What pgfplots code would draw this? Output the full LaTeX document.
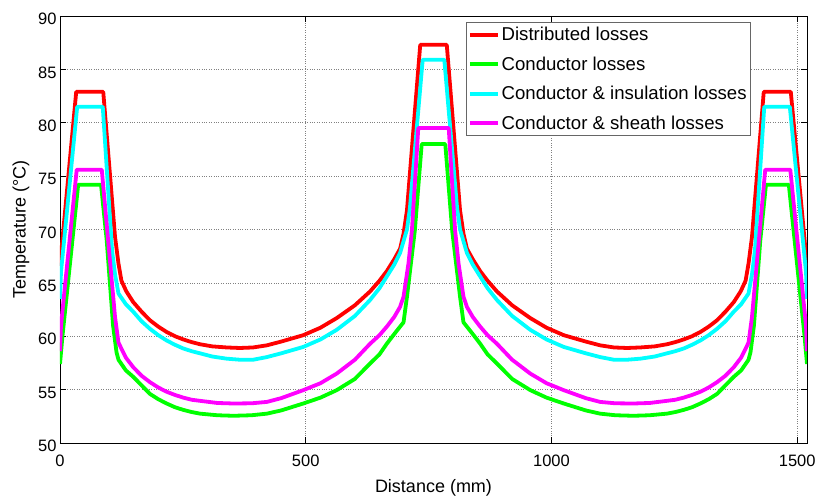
\documentclass[border=0pt]{standalone}
\usepackage{fontspec}
\setmainfont{Liberation Sans}
\usepackage{pgfplots}
\pgfplotsset{compat=1.18}
\definecolor{mred}{RGB}{255,0,0}
\definecolor{mgreen}{RGB}{0,255,0}
\definecolor{mcyan}{RGB}{0,255,255}
\definecolor{mmagenta}{RGB}{255,0,255}

\pgfplotstableread{
x y
0 66.6
33 82.9
88 82.9
112 69.3
119 66.8
125 65.2
135 64.2
149 63.2
166 62.3
183 61.5
200 60.9
217 60.4
234 60.0
251 59.7
268 59.45
285 59.25
310 59.05
339 58.95
366 58.9
393 58.95
421 59.15
450 59.5
495 60.1
530 60.8
563 61.7
600 62.9
631 64.2
650 65.2
665 66.1
680 67.2
692 68.2
699 69.6
706 71.8
719 79.3
733 87.3
760 87.3
787 87.3
801 79.3
814 71.8
821 69.6
828 68.2
840 67.2
855 66.1
870 65.2
889 64.2
920 62.9
957 61.7
990 60.8
1025 60.1
1070 59.5
1099 59.15
1127 58.95
1154 58.9
1181 58.95
1210 59.05
1235 59.25
1252 59.45
1269 59.7
1286 60.0
1303 60.4
1320 60.9
1337 61.5
1354 62.3
1371 63.2
1385 64.2
1395 65.2
1401 66.8
1408 69.3
1432 82.9
1487 82.9
1520 66.6
}\distributed

\pgfplotstableread{
x y
0 57.4
5 60.0
37 74.2
83.5 74.2
95 69.0
108 61.0
115 58.5
119 57.8
134 56.8
149 56.2
166 55.4
183 54.6
200 54.1
217 53.7
234 53.35
251 53.1
268 52.9
285 52.75
320 52.6
353 52.55
390 52.6
421 52.75
450 53.05
495 53.7
530 54.25
563 54.95
600 56.0
631 57.45
650 58.3
665 59.3
680 60.2
692 60.9
699 61.3
706 63.7
722 69.9
736 78.0
760 78.0
784 78.0
798 69.9
814 63.7
821 61.3
828 60.9
840 60.2
855 59.3
870 58.3
889 57.45
920 56.0
957 54.95
990 54.25
1025 53.7
1070 53.05
1099 52.75
1130 52.6
1167 52.55
1200 52.6
1235 52.75
1252 52.9
1269 53.1
1286 53.35
1303 53.7
1320 54.1
1337 54.6
1354 55.4
1371 56.2
1386 56.8
1401 57.8
1405 58.5
1412 61.0
1425 69.0
1436.5 74.2
1483 74.2
1515 60.0
1520 57.4
}\conductor

\pgfplotstableread{
x y
0 63.5
2 66.0
35 81.5
87 81.5
106 68.0
112 65.8
119 64.0
134 63.0
149 62.3
166 61.4
183 60.7
200 60.1
217 59.6
234 59.2
251 58.85
268 58.6
285 58.4
310 58.1
339 57.9
366 57.8
393 57.8
421 58.05
450 58.4
495 59.0
530 59.7
563 60.6
600 61.9
631 63.4
650 64.5
665 65.6
680 66.7
692 67.8
706 70.0
712 72.0
725 79.0
738 85.9
760 85.9
782 85.9
795 79.0
808 72.0
814 70.0
828 67.8
840 66.7
855 65.6
870 64.5
889 63.4
920 61.9
957 60.6
990 59.7
1025 59.0
1070 58.4
1099 58.05
1127 57.8
1154 57.8
1181 57.9
1210 58.1
1235 58.4
1252 58.6
1269 58.85
1286 59.2
1303 59.6
1320 60.1
1337 60.7
1354 61.4
1371 62.3
1386 63.0
1401 64.0
1408 65.8
1414 68.0
1433 81.5
1485 81.5
1518 66.0
1520 63.5
}\insulation

\pgfplotstableread{
x y
0 58.6
2 61.0
34 75.6
85 75.6
112 61.8
119 59.4
134 58.0
149 57.1
166 56.3
183 55.7
200 55.2
217 54.8
234 54.5
251 54.25
268 54.05
285 53.95
320 53.75
353 53.7
390 53.72
421 53.85
450 54.2
495 54.95
530 55.6
563 56.5
600 57.8
631 59.3
650 60.1
665 60.9
680 61.8
692 62.75
699 63.7
709 66.8
716 69.9
723 75.0
729 79.5
760 79.5
791 79.5
797 75.0
804 69.9
811 66.8
821 63.7
828 62.75
840 61.8
855 60.9
870 60.1
889 59.3
920 57.8
957 56.5
990 55.6
1025 54.95
1070 54.2
1099 53.85
1130 53.72
1167 53.7
1200 53.75
1235 53.95
1252 54.05
1269 54.25
1286 54.5
1303 54.8
1320 55.2
1337 55.7
1354 56.3
1371 57.1
1386 58.0
1401 59.4
1408 61.8
1435 75.6
1486 75.6
1518 61.0
1520 58.6
}\sheath

\begin{document}
\begin{tikzpicture}
\begin{axis}[
  at={(0,0)}, anchor=south west,
  scale only axis, width=747pt, height=427pt,
  xmin=0, xmax=1520, ymin=50, ymax=90,
  xtick={0,500,1000,1500}, ytick={50,55,...,90},
  tick align=inside, major tick length=6pt,
  tick style={black, line width=0.5pt},
  axis line style={line width=0.6pt},
  grid=major, grid style={dotted, gray, line width=0.6pt},
  /pgf/number format/assume math mode=true,
  /pgf/number format/1000 sep={},
  tick label style={font=\fontsize{16.5}{19}\selectfont},
  xticklabel style={yshift=-8pt},
  yticklabel style={yshift=-3pt},
  label style={font=\fontsize{18}{21}\selectfont},
  xlabel={Distance (mm)}, ylabel={Temperature (°C)},
  xlabel style={yshift=-6pt},
  ylabel style={yshift=2pt},
  legend style={at={(0.925,0.986)}, anchor=north east,
    font=\fontsize{18.6}{21}\selectfont, draw=gray!80!black, line width=0.6pt,
    inner xsep=2pt, inner ysep=3pt, row sep=10.5pt},
  legend cell align=left,
  legend image code/.code={\draw[#1, line width=3.8pt] (0pt,0pt) -- (28pt,0pt);},
  every axis plot/.append style={line width=3.8pt, line join=round},
]
\addplot[mred] table {\distributed};
\addlegendentry{Distributed losses}
\addplot[mgreen] table {\conductor};
\addlegendentry{Conductor losses}
\addplot[mcyan] table {\insulation};
\addlegendentry{Conductor \& insulation losses}
\addplot[mmagenta] table {\sheath};
\addlegendentry{Conductor \& sheath losses}
\end{axis}
\pgfresetboundingbox
\path[use as bounding box] (-60pt,-52pt) rectangle (758pt,443pt);
\end{tikzpicture}
\end{document}
